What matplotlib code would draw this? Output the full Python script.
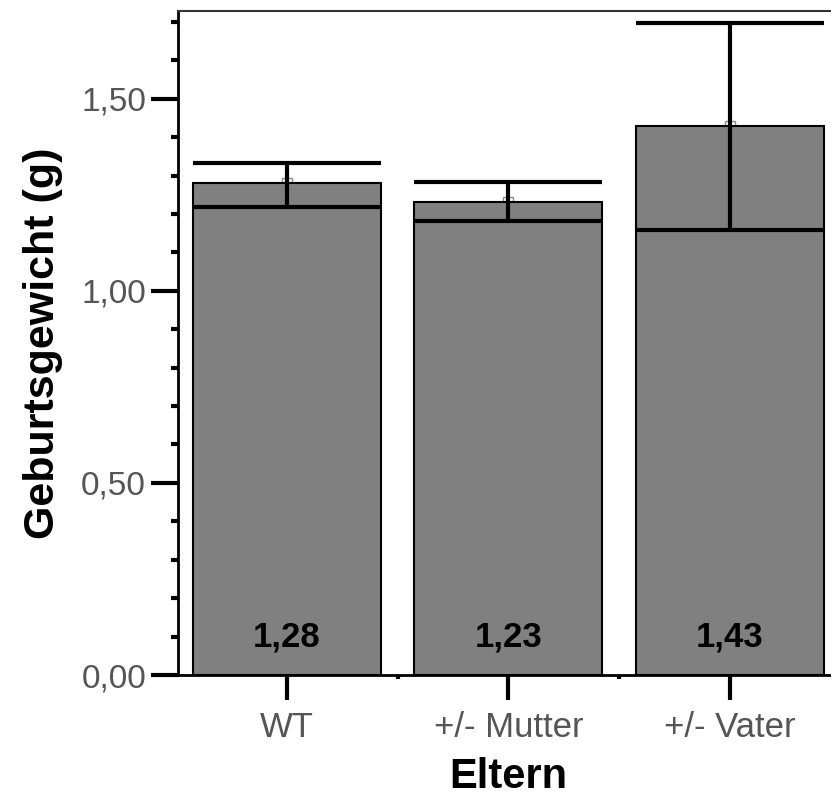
import numpy as np
import matplotlib.pyplot as plt
from matplotlib.ticker import FixedLocator, MultipleLocator

plt.rcParams['font.family'] = ['Liberation Sans', 'DejaVu Sans']

# Mittelwerte und 95%-KI je Gruppe
gruppen = ['WT', '+/- Mutter', '+/- Vater']
mittel = [1.28, 1.23, 1.43]
ki_unten = [1.219, 1.182, 1.159]
ki_oben = [1.333, 1.284, 1.698]

fig = plt.figure(figsize=(8.31, 7.96), dpi=100)
ax = fig.add_axes([0.2142, 0.152, 0.795, 0.834])

x = np.arange(len(gruppen))
breite = 0.85
ax.bar(x, mittel, width=breite, color='#808080', edgecolor='black', linewidth=1.5, zorder=2)

# Fehlerbalken mit breiten Endstrichen
ax.vlines(x, ki_unten, ki_oben, color='black', linewidth=3, zorder=4)
ax.hlines(ki_oben, x - breite / 2, x + breite / 2, color='black', linewidth=3, zorder=4)
ax.hlines(ki_unten, x - breite / 2, x + breite / 2, color='black', linewidth=3, zorder=4)
ax.plot(x, mittel, 's', markersize=7.5, markerfacecolor='none',
        markeredgecolor='#8c8c8c', markeredgewidth=1, zorder=1.5, clip_on=False)

for xi, m in zip(x, mittel):
    ax.text(xi, 0.10, f'{m:.2f}'.replace('.', ','), ha='center', va='center',
            fontsize=25, fontweight='bold', color='black', zorder=5)

ax.set_xlim(-0.492, 2.492)
ax.set_ylim(0, 1.728)

ax.set_xticks(x)
ax.set_xticklabels(gruppen)
ax.xaxis.set_minor_locator(FixedLocator([0.5, 1.5]))
ax.set_yticks([0, 0.5, 1.0, 1.5])
ax.set_yticklabels(['0,00', '0,50', '1,00', '1,50'])
ax.yaxis.set_minor_locator(MultipleLocator(0.1))

ax.tick_params(axis='x', which='major', length=18, width=3, pad=8,
               labelsize=25, labelcolor='#555555')
ax.tick_params(axis='x', which='minor', length=3, width=3)
ax.tick_params(axis='y', which='major', length=19.5, width=3, pad=3.5,
               labelsize=24, labelcolor='#555555')
ax.tick_params(axis='y', which='minor', length=5, width=3)

for s in ['left', 'bottom']:
    ax.spines[s].set_linewidth(2)
    ax.spines[s].set_color('black')
ax.spines['top'].set_linewidth(1.5)
ax.spines['top'].set_color('#333333')
ax.spines['right'].set_linewidth(1.5)

ax.set_xlabel('Eltern', fontsize=30, fontweight='bold', labelpad=9)
ax.set_ylabel('Geburtsgewicht (g)', fontsize=31, fontweight='bold', labelpad=13)

fig.savefig('out.png', dpi=100)
